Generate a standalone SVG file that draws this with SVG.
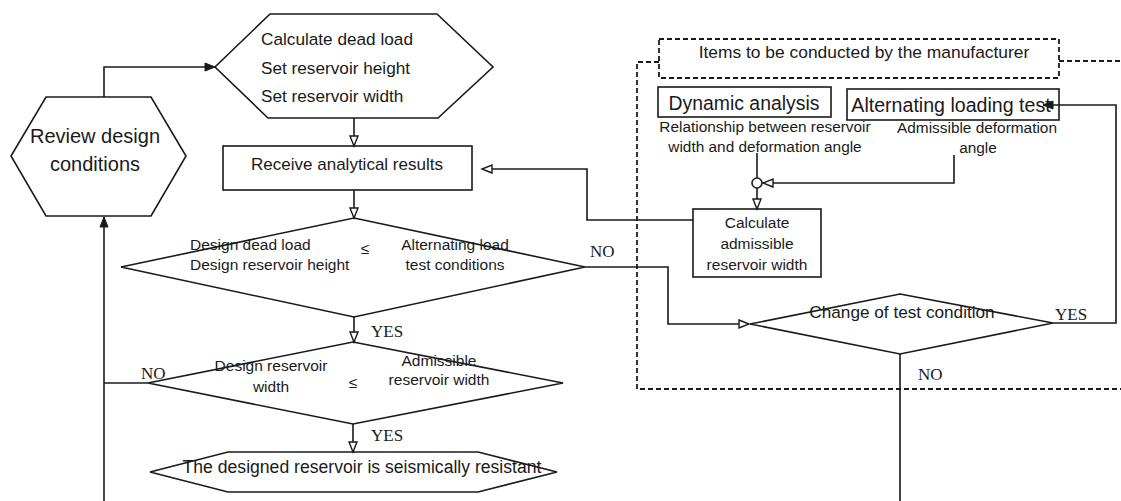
<svg xmlns="http://www.w3.org/2000/svg" width="1121" height="501" viewBox="0 0 1121 501">
  <style>
    .shape { fill: #ffffff; stroke: #1a1a1a; stroke-width: 1.6; }
    .line { fill: none; stroke: #1a1a1a; stroke-width: 1.6; }
    .dash { fill: none; stroke: #1a1a1a; stroke-width: 1.8; stroke-dasharray: 5 3; }
    .t { font-family: "Liberation Sans", Arial, sans-serif; fill: #1a1a1a; }
    .lbl { font-family: "Liberation Serif", "Times New Roman", serif; font-size: 17px; fill: #1a1a1a; }
  </style>
  <defs>
    <marker id="hollow" markerUnits="userSpaceOnUse" markerWidth="14" markerHeight="12" refX="10" refY="4" orient="auto" overflow="visible">
      <path d="M0,0 L10,4 L0,8 Z" fill="#ffffff" stroke="#1a1a1a" stroke-width="1.4"/>
    </marker>
    <marker id="solid" markerUnits="userSpaceOnUse" markerWidth="14" markerHeight="12" refX="10" refY="4" orient="auto" overflow="visible">
      <path d="M0,0 L10,4 L0,8 Z" fill="#1a1a1a" stroke="#1a1a1a" stroke-width="1"/>
    </marker>
  </defs>

  <rect width="1121" height="501" fill="#ffffff"/>

  <!-- manufacturer's area -->
  <g id="manufacturer-area">
    <path class="dash" d="M659,62 H637 V389 H1121"/>
    <path class="dash" d="M1059,61 H1121"/>
    <rect class="dash" x="659" y="39" width="400" height="39"/>
    <text class="t" x="864" y="58" font-size="17.4" text-anchor="middle">Items to be conducted by the manufacturer</text>
  </g>

  <g id="review-design-conditions">
    <polygon class="shape" points="46,97 151,97 186,156 151,216 46,216 11,156"/>
    <text class="t" x="95" y="143" font-size="20" text-anchor="middle">Review design</text>
    <text class="t" x="95" y="171" font-size="20" text-anchor="middle">conditions</text>
  </g>

  <g id="calculate-dead-load">
    <polygon class="shape" points="270,14 437,14 493,67 438,118 268,118 215,67"/>
    <text class="t" x="261" y="45" font-size="17.2">Calculate dead load</text>
    <text class="t" x="261" y="74" font-size="17.2">Set reservoir height</text>
    <text class="t" x="261" y="102" font-size="17.2">Set reservoir width</text>
  </g>

  <g id="receive-analytical-results">
    <rect class="shape" x="223" y="146" width="249" height="44"/>
    <text class="t" x="347" y="170" font-size="17" text-anchor="middle">Receive analytical results</text>
  </g>

  <g id="check-load-height">
    <polygon class="shape" points="354,218 585,267 354,317 121,267"/>
    <text class="t" x="190" y="250" font-size="15.5">Design dead load</text>
    <text class="t" x="190" y="270" font-size="15.5">Design reservoir height</text>
    <text class="t" x="365" y="254" font-size="15.5" text-anchor="middle">≤</text>
    <text class="t" x="455" y="250" font-size="15.5" text-anchor="middle">Alternating load</text>
    <text class="t" x="455" y="270" font-size="15.5" text-anchor="middle">test conditions</text>
  </g>

  <g id="check-width">
    <polygon class="shape" points="353,342 563,383 353,424 148,383"/>
    <text class="t" x="271" y="371" font-size="15.5" text-anchor="middle">Design reservoir</text>
    <text class="t" x="271" y="392" font-size="15.5" text-anchor="middle">width</text>
    <text class="t" x="353" y="388" font-size="15.5" text-anchor="middle">≤</text>
    <text class="t" x="439" y="366" font-size="15.5" text-anchor="middle">Admissible</text>
    <text class="t" x="439" y="385" font-size="15.5" text-anchor="middle">reservoir width</text>
  </g>

  <g id="seismically-resistant">
    <polygon class="shape" points="228,452 478,452 557,472 478,492 228,492 150,472"/>
    <text class="t" x="362" y="473" font-size="17.6" text-anchor="middle">The designed reservoir is seismically resistant</text>
  </g>

  <g id="dynamic-analysis">
    <rect class="shape" x="658" y="87" width="173" height="30"/>
    <text class="t" x="744" y="110" font-size="19.4" text-anchor="middle">Dynamic analysis</text>
    <text class="t" x="765" y="132" font-size="15.4" text-anchor="middle">Relationship between reservoir</text>
    <text class="t" x="765" y="152" font-size="15.4" text-anchor="middle">width and deformation angle</text>
  </g>

  <g id="alternating-loading-test">
    <rect class="shape" x="847" y="89" width="212" height="31"/>
    <text class="t" x="951" y="112" font-size="19.6" text-anchor="middle">Alternating loading test</text>
    <text class="t" x="977" y="133" font-size="15.4" text-anchor="middle">Admissible deformation</text>
    <text class="t" x="978" y="153" font-size="15.4" text-anchor="middle">angle</text>
  </g>

  <g id="calculate-admissible-width">
    <rect class="shape" x="693" y="209" width="128" height="68"/>
    <text class="t" x="757" y="228" font-size="15.5" text-anchor="middle">Calculate</text>
    <text class="t" x="757" y="249" font-size="15.5" text-anchor="middle">admissible</text>
    <text class="t" x="757" y="270" font-size="15.5" text-anchor="middle">reservoir width</text>
  </g>

  <g id="change-test-condition">
    <polygon class="shape" points="900,294 1053,323 900,354 750,324"/>
    <text class="t" x="902" y="318" font-size="17.2" text-anchor="middle">Change of test condition</text>
  </g>

  <!-- connectors, drawn last so arrowheads sit on top of node outlines -->
  <g id="connectors">
    <path class="line" d="M104,97 V67 H215" marker-end="url(#solid)"/>
    <path class="line" d="M354,118 V146" marker-end="url(#hollow)"/>
    <path class="line" d="M354,190 V218" marker-end="url(#hollow)"/>
    <path class="line" d="M354,317 V342" marker-end="url(#hollow)"/>
    <path class="line" d="M353,424 V452" marker-end="url(#hollow)"/>
    <path class="line" d="M148,383 H104"/>
    <path class="line" d="M104,501 V217" marker-end="url(#solid)"/>
    <path class="line" d="M585,267 H668 V324 H749" marker-end="url(#hollow)"/>
    <path class="line" d="M693,220 H587 V169 H482" marker-end="url(#hollow)"/>
    <path class="line" d="M1053,323 H1116 V105 H1043" marker-end="url(#solid)"/>
    <path class="line" d="M900,354 V501"/>
    <path class="line" d="M757,153 V178"/>
    <path class="line" d="M954,155 V183 H763" marker-end="url(#hollow)"/>
    <path class="line" d="M757,188 V209" marker-end="url(#hollow)"/>
    <circle class="shape" cx="757" cy="183" r="5"/>
    <text class="lbl" x="371" y="337">YES</text>
    <text class="lbl" x="371" y="441">YES</text>
    <text class="lbl" x="141" y="379">NO</text>
    <text class="lbl" x="590" y="257">NO</text>
    <text class="lbl" x="1055" y="320">YES</text>
    <text class="lbl" x="918" y="380">NO</text>
  </g>
</svg>
